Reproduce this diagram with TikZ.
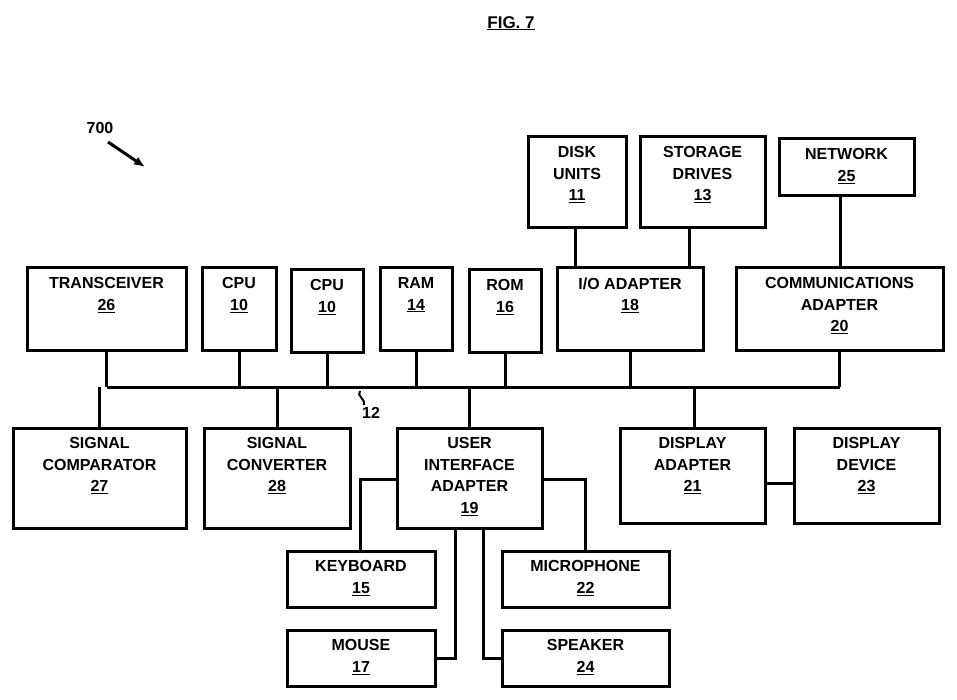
\documentclass[tikz,border=0pt]{standalone}
\usepackage{fontspec}
\setmainfont{Liberation Sans}
\usetikzlibrary{arrows.meta}
\begin{document}
\begin{tikzpicture}[x=1pt,y=-1pt,
  box/.style={draw,line width=3pt,rectangle,inner sep=0pt},
  txt/.style={font=\bfseries\fontsize{16}{21.5}\selectfont,align=center,inner sep=0pt,anchor=north},
  ln/.style={line width=3pt}]
\useasboundingbox (0,0) rectangle (957,700);
\newcommand{\bx}[6]{%
  \node[box,minimum width={#4-#2},minimum height={#5-#3}] (#1) at ({(#2+#4)/2},{(#3+#5)/2}) {};
  \node[txt] (#1t) at ([yshift=-11pt]#1.north) {#6};}
\node[txt,font=\bfseries\fontsize{17}{20}\selectfont] (fig) at (511,16) {\underline{FIG. 7}};
\node[txt] (lbl) at (100,122) {700};
\coordinate (a1) at (108,142); \coordinate (a2) at (145,167);
\draw[ln,-{Latex[length=11pt,width=9pt]}] (a1) -- (a2);
\bx{trans}{27}{268}{186}{350}{TRANSCEIVER\\\underline{26}}
\bx{cpua}{202}{268}{276}{350}{CPU\\\underline{10}}
\bx{cpub}{291}{270}{363}{352}{CPU\\\underline{10}}
\bx{ram}{380}{268}{452}{350}{RAM\\\underline{14}}
\bx{rom}{469}{270}{541}{352}{ROM\\\underline{16}}
\bx{io}{557}{268}{703}{350}{I/O ADAPTER\\\underline{18}}
\bx{comm}{736}{268}{943}{350}{COMMUNICATIONS\\ADAPTER\\\underline{20}}
\bx{disk}{528}{137}{626}{228}{DISK\\UNITS\\\underline{11}}
\bx{stor}{640}{137}{765}{228}{STORAGE\\DRIVES\\\underline{13}}
\bx{net}{779}{139}{914}{196}{NETWORK\\\underline{25}}
\bx{comp}{13}{428}{186}{528}{SIGNAL\\COMPARATOR\\\underline{27}}
\bx{conv}{204}{428}{350}{528}{SIGNAL\\CONVERTER\\\underline{28}}
\bx{uia}{397}{428}{542}{528}{USER\\INTERFACE\\ADAPTER\\\underline{19}}
\bx{dadp}{620}{428}{765}{523}{DISPLAY\\ADAPTER\\\underline{21}}
\bx{ddev}{794}{428}{939}{523}{DISPLAY\\DEVICE\\\underline{23}}
\bx{kbd}{287}{551}{435}{607}{KEYBOARD\\\underline{15}}
\bx{mic}{502}{551}{669}{607}{MICROPHONE\\\underline{22}}
\bx{mouse}{287}{630}{435}{686}{MOUSE\\\underline{17}}
\bx{spk}{502}{630}{669}{686}{SPEAKER\\\underline{24}}
% bus
\coordinate (busL) at (106.5,387); \coordinate (busR) at (840,387);
\draw[ln] (busL) -- (busR);
\foreach \n in {trans,cpua,cpub,ram,rom} \draw[ln] (\n.south) -- (\n.south |- busL);
\draw[ln] (io.south) -- (io.south |- busL);
\draw[ln] ([xshift=0pt]comm.south) -- (comm.south |- busL);
\foreach \n in {comp,conv,uia} \draw[ln] (\n.north) -- (\n.north |- busL);
\draw[ln] ([xshift=2pt]dadp.north) -- ([xshift=2pt]dadp.north |- busL);
\coordinate (sq1) at (360,391); \coordinate (sq2) at (364,405);
\draw[line width=2pt] (sq1) .. controls (356,396) and (366,399) .. (sq2);
\node[txt] (n12) at (371,407) {12};
% upper
\draw[ln] (disk.south) ++(-1.5,0) coordinate (d1) -- (d1 |- io.north);
\draw[ln] (stor.south) ++(-13.5,0) coordinate (s1) -- (s1 |- io.north);
\draw[ln] (net.south) ++(-6.5,0) coordinate (n1) -- (n1 |- comm.north);
\draw[ln] (dadp.east |- 0,483) -- (ddev.west |- 0,483);
% UIA peripherals
\coordinate (kk) at (360,479); \coordinate (mm) at (585,479);
\draw[ln] (uia.west |- kk) -- (kk) -- (kk |- kbd.north);
\draw[ln] (uia.east |- mm) -- (mm) -- (mm |- mic.north);
\coordinate (mo) at (455,658); \coordinate (sp) at (483,658);
\draw[ln] (uia.south -| mo) -- (mo) -- (mouse.east |- mo);
\draw[ln] (uia.south -| sp) -- (sp) -- (spk.west |- sp);
\end{tikzpicture}
\end{document}
